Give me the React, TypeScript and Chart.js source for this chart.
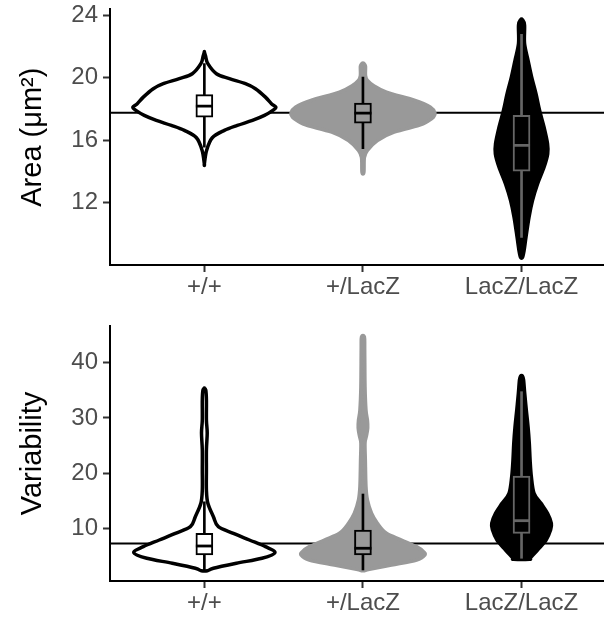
import { useEffect, useRef } from "react";
import { Chart, registerables } from "chart.js";

Chart.register(...registerables);

const CATEGORIES = ["+/+", "+/LacZ", "LacZ/LacZ"];

// ---------- Area panel ----------
const AREA_TICKS = [12, 16, 20, 24];
const AREA_REF = 17.76;
const AREA_Q1 = [17.48, 17.1, 14.02];
const AREA_Q3 = [18.92, 18.38, 17.59];
const AREA_MEDIAN = [18.19, 17.74, 15.67];
const AREA_LOW = [15.56, 15.46, 9.79];
const AREA_HIGH = [20.9, 20.04, 22.78];
// violin outlines: value and half-width (in category units)
const AREA_WT_Y = [14.49, 15.35, 16.16, 16.63, 16.95, 17.27, 17.59, 17.91, 18.12, 18.34, 18.76, 19.3, 19.62, 19.94, 20.26, 20.9, 21.37, 21.65];
const AREA_WT_W = [0, 0.014, 0.05, 0.126, 0.208, 0.303, 0.379, 0.432, 0.451, 0.423, 0.385, 0.322, 0.259, 0.158, 0.076, 0.022, 0.008, 0];
const AREA_HET_Y = [13.96, 14.9, 15.35, 15.99, 16.52, 16.95, 17.2, 17.48, 17.75, 18.12, 18.55, 19.08, 19.51, 19.83, 20.15, 20.73, 20.92];
const AREA_HET_W = [0.006, 0.009, 0.028, 0.091, 0.196, 0.353, 0.407, 0.445, 0.454, 0.426, 0.328, 0.148, 0.066, 0.028, 0.016, 0.016, 0.006];
const AREA_HOM_Y = [8.51, 8.94, 9.79, 11.07, 12.14, 13.21, 14.28, 15.13, 15.78, 16.84, 17.91, 18.98, 20.04, 21.12, 22.19, 23.36, 23.71];
const AREA_HOM_W = [0.006, 0.016, 0.028, 0.047, 0.069, 0.101, 0.142, 0.165, 0.164, 0.142, 0.114, 0.091, 0.064, 0.041, 0.019, 0.019, 0.006];

// ---------- Variability panel ----------
const VAR_TICKS = [10, 20, 30, 40];
const VAR_REF = 7.25;
const VAR_Q1 = [5.16, 5.16, 9.09];
const VAR_Q3 = [9.09, 9.69, 19.47];
const VAR_MEDIAN = [6.79, 6.38, 11.38];
const VAR_LOW = [2.5, 2.45, 4.57];
const VAR_HIGH = [14.8, 16.21, 34.75];
const VAR_WT_Y = [2.3, 2.75, 3.66, 4.57, 5.58, 6.67, 7.88, 9.09, 10.29, 12.1, 14.53, 16.94, 20.56, 24.19, 27.26, 29.62, 33.24, 35.05, 35.36];
const VAR_WT_W = [0.019, 0.057, 0.202, 0.363, 0.445, 0.385, 0.284, 0.183, 0.088, 0.057, 0.022, 0.013, 0.013, 0.013, 0.018, 0.013, 0.013, 0.009, 0];
const VAR_HET_Y = [2.32, 2.57, 3.35, 4.26, 5.16, 5.76, 6.67, 7.88, 9.09, 10.91, 12.72, 15.13, 17.54, 22.37, 25.45, 26.72, 28.17, 29.62, 31.43, 35.65, 42.3, 44.65];
const VAR_HET_W = [0.009, 0.041, 0.18, 0.338, 0.39, 0.382, 0.338, 0.243, 0.148, 0.091, 0.054, 0.028, 0.019, 0.015, 0.013, 0.022, 0.03, 0.028, 0.019, 0.013, 0.011, 0.009];
const VAR_HOM_Y = [4.38, 4.57, 6.07, 7.88, 9.69, 10.91, 12.72, 14.53, 16.34, 19.35, 22.37, 25.4, 28.41, 31.43, 34.46, 36.87, 37.6];
const VAR_HOM_W = [0.05, 0.054, 0.101, 0.155, 0.183, 0.188, 0.164, 0.123, 0.079, 0.062, 0.054, 0.049, 0.041, 0.03, 0.02, 0.013, 0.006];

// ---------- styles ----------
const VIOLIN_FILL = ["#ffffff", "#999999", "#000000"];
const VIOLIN_LINE = ["#000000", "#999999", "#000000"];
const BOX_FILL = ["#ffffff", "#999999", "#000000"];
const BOX_LINE = ["#000000", "#000000", "#666666"];
const FONT = "'Liberation Sans', Arial, Helvetica, sans-serif";

type PanelSpec = {
  title: string;
  min: number;
  max: number;
  ticks: number[];
  ref: number;
  q1: number[];
  q3: number[];
  med: number[];
  lo: number[];
  hi: number[];
  vy: number[][];
  vw: number[][];
  padTop: number;
  xHeight: number;
};

function closedSpline(ctx: CanvasRenderingContext2D, pts: number[][]) {
  const n = pts.length;
  ctx.beginPath();
  ctx.moveTo(pts[0][0], pts[0][1]);
  for (let i = 0; i < n; i++) {
    const p0 = pts[(i - 1 + n) % n];
    const p1 = pts[i];
    const p2 = pts[(i + 1) % n];
    const p3 = pts[(i + 2) % n];
    ctx.bezierCurveTo(
      p1[0] + (p2[0] - p0[0]) / 6,
      p1[1] + (p2[1] - p0[1]) / 6,
      p2[0] - (p3[0] - p1[0]) / 6,
      p2[1] - (p3[1] - p1[1]) / 6,
      p2[0],
      p2[1]
    );
  }
  ctx.closePath();
}

function violinPlugin(p: PanelSpec) {
  return {
    id: "violins",
    beforeDatasetsDraw(chart: any) {
      const { ctx, chartArea } = chart;
      const xs = chart.scales.x;
      const ys = chart.scales.y;
      ctx.save();
      ctx.beginPath();
      ctx.rect(chartArea.left, chartArea.top, chartArea.right - chartArea.left, chartArea.bottom - chartArea.top);
      ctx.clip();
      const yr = ys.getPixelForValue(p.ref);
      ctx.strokeStyle = "#000000";
      ctx.lineWidth = 2;
      ctx.beginPath();
      ctx.moveTo(chartArea.left, yr);
      ctx.lineTo(chartArea.right, yr);
      ctx.stroke();
      p.vy.forEach((vals, i) => {
        const w = p.vw[i];
        const pos = i + 1;
        const pts: number[][] = [];
        for (let k = 0; k < vals.length; k++) pts.push([xs.getPixelForValue(pos + w[k]), ys.getPixelForValue(vals[k])]);
        for (let k = vals.length - 1; k >= 0; k--) pts.push([xs.getPixelForValue(pos - w[k]), ys.getPixelForValue(vals[k])]);
        closedSpline(ctx, pts);
        ctx.fillStyle = VIOLIN_FILL[i];
        ctx.fill();
        ctx.strokeStyle = VIOLIN_LINE[i];
        ctx.lineWidth = 3.5;
        ctx.lineJoin = "round";
        ctx.stroke();
      });
      ctx.restore();
    },
  };
}

function makeChart(canvas: HTMLCanvasElement, p: PanelSpec) {
  return new Chart(canvas, {
    type: "scatter",
    data: {
      datasets: [
        {
          type: "bar",
          data: CATEGORIES.map((_, i) => ({ x: i + 1, y: [p.lo[i], p.hi[i]] })),
          backgroundColor: BOX_LINE,
          borderWidth: 0,
          barThickness: 2,
          grouped: false,
          order: 3,
        } as any,
        {
          type: "bar",
          data: CATEGORIES.map((_, i) => ({ x: i + 1, y: [p.q1[i], p.q3[i]] })),
          backgroundColor: BOX_FILL,
          borderColor: BOX_LINE,
          borderWidth: 2,
          borderSkipped: false,
          barThickness: 17,
          grouped: false,
          order: 2,
        } as any,
        {
          type: "scatter",
          data: CATEGORIES.map((_, i) => ({ x: i + 1, y: p.med[i] })),
          pointStyle: "line",
          pointRadius: 8.5,
          pointBorderColor: BOX_LINE,
          pointBorderWidth: 2.8,
          order: 1,
        } as any,
      ],
    },
    options: {
      responsive: false,
      animation: false,
      events: [],
      layout: { autoPadding: false, padding: { top: p.padTop, left: 0, right: 0, bottom: 0 } },
      plugins: { legend: { display: false }, tooltip: { enabled: false } },
      scales: {
        x: {
          type: "linear",
          min: 0.405,
          max: 3.52,
          offset: false,
          afterBuildTicks: (s: any) => {
            s.ticks = CATEGORIES.map((_, i) => ({ value: i + 1 }));
          },
          afterFit: (s: any) => {
            s.height = p.xHeight;
            s.paddingLeft = 0;
            s.paddingRight = 0;
          },
          ticks: {
            autoSkip: false,
            maxRotation: 0,
            padding: 1,
            color: "#4d4d4d",
            font: { family: FONT, size: 24 },
            callback: (v: any) => CATEGORIES[Math.round(Number(v)) - 1] ?? "",
          },
          grid: { offset: false, drawOnChartArea: false, tickLength: 7, tickColor: "#333333", tickWidth: 2, color: "#333333" },
          border: { display: true, color: "#000000", width: 2 },
        },
        y: {
          type: "linear",
          min: p.min,
          max: p.max,
          afterBuildTicks: (s: any) => {
            s.ticks = p.ticks.map((v) => ({ value: v }));
          },
          afterFit: (s: any) => {
            s.width = 110;
            s.paddingTop = 0;
            s.paddingBottom = 0;
          },
          ticks: {
            padding: 5,
            color: "#4d4d4d",
            font: { family: FONT, size: 24 },
          },
          title: {
            display: true,
            text: p.title,
            color: "#000000",
            font: { family: FONT, size: 29 },
            padding: { top: 16, bottom: 0 },
          },
          grid: { offset: false, drawOnChartArea: false, tickLength: 7, tickColor: "#333333", tickWidth: 2, color: "#333333" },
          border: { display: true, color: "#000000", width: 2 },
        },
      },
    } as any,
    plugins: [violinPlugin(p) as any],
  });
}

const AREA_PANEL: PanelSpec = {
  title: "Area (μm²)",
  min: 8.02,
  max: 24.38,
  ticks: AREA_TICKS,
  ref: AREA_REF,
  q1: AREA_Q1,
  q3: AREA_Q3,
  med: AREA_MEDIAN,
  lo: AREA_LOW,
  hi: AREA_HIGH,
  vy: [AREA_WT_Y, AREA_HET_Y, AREA_HOM_Y],
  vw: [AREA_WT_W, AREA_HET_W, AREA_HOM_W],
  padTop: 9.3,
  xHeight: 35,
};

const VAR_PANEL: PanelSpec = {
  title: "Variability",
  min: 0.45,
  max: 46.65,
  ticks: VAR_TICKS,
  ref: VAR_REF,
  q1: VAR_Q1,
  q3: VAR_Q3,
  med: VAR_MEDIAN,
  lo: VAR_LOW,
  hi: VAR_HIGH,
  vy: [VAR_WT_Y, VAR_HET_Y, VAR_HOM_Y],
  vw: [VAR_WT_W, VAR_HET_W, VAR_HOM_W],
  padTop: 26,
  xHeight: 40,
};

export default function App() {
  const topRef = useRef<HTMLCanvasElement | null>(null);
  const botRef = useRef<HTMLCanvasElement | null>(null);
  useEffect(() => {
    const a = makeChart(topRef.current!, AREA_PANEL);
    const b = makeChart(botRef.current!, VAR_PANEL);
    return () => {
      a.destroy();
      b.destroy();
    };
  }, []);
  return (
    <div style={{ position: "absolute", left: 0, top: 0, width: 604, height: 621, background: "#ffffff" }}>
      <canvas ref={topRef} width={604} height={300} style={{ display: "block" }} />
      <canvas ref={botRef} width={604} height={321} style={{ display: "block" }} />
    </div>
  );
}
